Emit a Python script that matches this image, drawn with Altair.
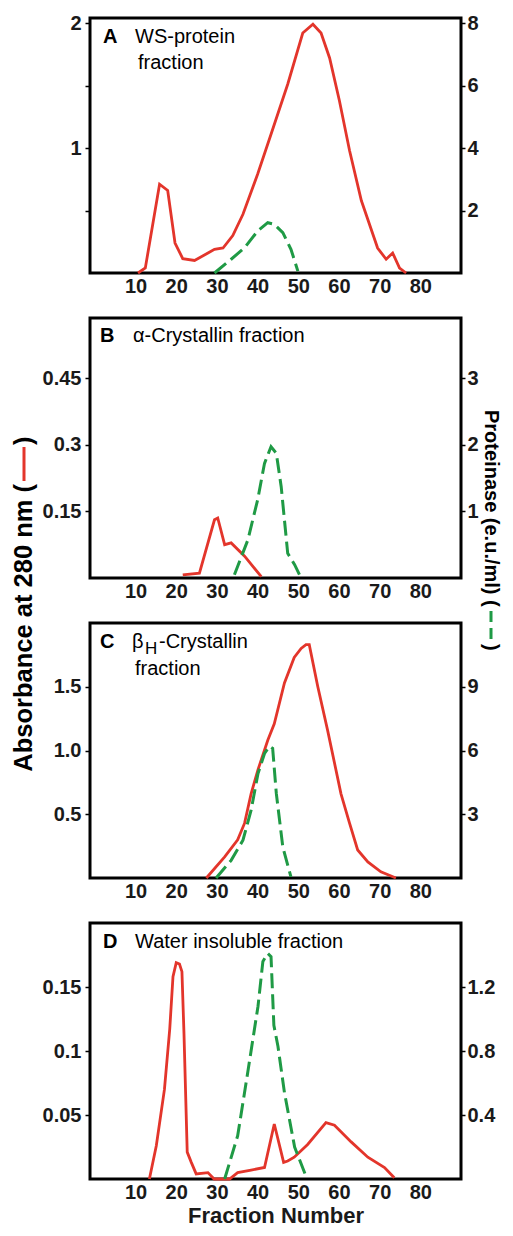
import altair as alt
import pandas as pd

RED = "#e3352b"
GREEN = "#1f9a45"
FONT = "Liberation Sans"

# ---------------- data ----------------
A_red_x = [10.6, 12.4, 15.9, 17.9, 19.7, 21.6, 24.5, 27.8, 29.4, 31.5, 33.9, 36.4, 40.0, 43.3, 47.4,
           51.1, 53.6, 55.6, 57.7, 60.1, 62.6, 65.5, 69.5, 71.6, 73.2, 74.9, 76.5]
A_red_y = [0, 0.04, 0.71, 0.66, 0.24, 0.115, 0.10, 0.16, 0.19, 0.20, 0.30, 0.47, 0.79, 1.11, 1.51,
           1.92, 1.99, 1.92, 1.72, 1.38, 0.98, 0.58, 0.20, 0.11, 0.16, 0.04, 0]
A_green_x = [29.4, 33.5, 36.8, 40.0, 42.5, 44.1, 46.2, 48.2, 49.9]
A_green_y = [0, 0.44, 0.81, 1.34, 1.61, 1.56, 1.29, 0.76, 0.06]

B_red_x = [21.6, 25.7, 29.4, 30.2, 31.9, 33.5, 36.8, 40.9]
B_red_y = [0.007, 0.011, 0.131, 0.135, 0.075, 0.079, 0.049, 0.003]
B_green_x = [34.3, 37.6, 40.0, 41.7, 43.3, 44.6, 45.8, 47.4, 49.1, 50.7]
B_green_y = [0.05, 0.57, 1.17, 1.72, 1.97, 1.87, 1.37, 0.37, 0.20, 0]

C_red_x = [27.4, 31.9, 35.1, 36.8, 38.4, 40.1, 42.5, 44.1, 46.6, 49.0, 50.7, 51.9, 52.7, 54.8,
           57.2, 60.5, 62.6, 64.6, 67.1, 70.3, 74.0]
C_red_y = [0, 0.166, 0.30, 0.43, 0.66, 0.85, 1.08, 1.21, 1.53, 1.73, 1.80, 1.83, 1.83, 1.50,
           1.16, 0.66, 0.43, 0.22, 0.126, 0.048, 0]
C_green_x = [29.8, 33.5, 36.4, 38.4, 40.1, 41.7, 42.9, 43.7, 44.6, 46.2, 48.2]
C_green_y = [0, 0.83, 1.78, 3.19, 4.92, 5.86, 6.2, 6.1, 3.98, 1.46, 0.05]

D_red_x = [13.4, 15.1, 17.1, 18.4, 19.2, 20.0, 20.8, 21.4, 21.9, 22.7, 23.7, 24.9, 27.8, 29.3,
           33.1, 35.1, 38.4, 41.7, 44.1, 46.4, 47.4, 49.0, 52.3, 56.8, 58.9, 63.0, 67.1, 71.2, 73.6]
D_red_y = [0, 0.026, 0.070, 0.117, 0.158, 0.169, 0.168, 0.162, 0.114, 0.021, 0.013, 0.004, 0.005, 0,
           0, 0.005, 0.007, 0.009, 0.043, 0.013, 0.014, 0.017, 0.027, 0.044, 0.042, 0.029, 0.017, 0.009, 0.001]
D_green_x = [31.9, 35.1, 37.6, 40.1, 41.3, 42.5, 43.3, 44.0, 45.0, 46.6, 49.1, 52.0]
D_green_y = [0, 0.27, 0.67, 1.08, 1.36, 1.41, 1.39, 0.96, 0.83, 0.54, 0.20, 0.01]

x_ticks = [10, 20, 30, 40, 50, 60, 70, 80]

W = 371


def txt(text, x, y, size=20, weight="normal", align="left", angle=0, baseline="alphabetic"):
    return alt.Chart(pd.DataFrame({"t": [text]})).mark_text(
        align=align, baseline=baseline, fontSize=size, fontWeight=weight,
        font=FONT, angle=angle, color="black"
    ).encode(text="t:N", x=alt.value(x), y=alt.value(y))


def seg(x, y, y2, color, dash=None, width=3):
    kw = dict(color=color, strokeWidth=width)
    if dash:
        kw["strokeDash"] = dash
    return alt.Chart(pd.DataFrame({"a": [0]})).mark_rule(**kw).encode(
        x=alt.value(x), y=alt.value(y), y2=alt.value(y2))


def panel(rx, ry, gx, gy, ldom, rdom, lticks, rticks, h, extras, lfmt, rfmt,
          lexpr=None, xtitle=None):
    red = pd.DataFrame({"x": rx, "y": ry})
    grn = pd.DataFrame({"x": gx, "y": gy})
    xaxis = alt.Axis(values=x_ticks, ticks=False, domain=False, grid=False,
                     labelFontSize=20, labelFontWeight="bold", labelPadding=3,
                     labelFont=FONT, labelColor="#1a1a1a", format=".0f",
                     title=xtitle if xtitle else None, titleFont=FONT, titleFontSize=22,
                     titleFontWeight="bold", titlePadding=3, titleColor="#1a1a1a")
    xenc = alt.X("x:Q", scale=alt.Scale(domain=[-1.2, 90], nice=False, zero=False), axis=xaxis)
    laxis_kw = dict(orient="left", values=lticks, title=None, domain=False, grid=False,
                    tickSize=5, tickWidth=1.5, tickColor="black", labelPadding=4,
                    labelFontSize=20, labelFontWeight="bold", labelFont=FONT,
                    labelColor="#1a1a1a", format=lfmt)
    if lexpr:
        laxis_kw["labelExpr"] = lexpr
    raxis = alt.Axis(orient="right", values=rticks, title=None, domain=False, grid=False,
                     tickSize=4, tickWidth=1.5, tickColor="black", labelPadding=2,
                     labelFontSize=20, labelFontWeight="bold", labelFont=FONT,
                     labelColor="#1a1a1a", format=rfmt)
    l_red = alt.Chart(red).mark_line(color=RED, strokeWidth=2.8).encode(
        x=xenc, y=alt.Y("y:Q", scale=alt.Scale(domain=ldom, nice=False), axis=alt.Axis(**laxis_kw)))
    l_grn = alt.Chart(grn).mark_line(color=GREEN, strokeWidth=3, strokeDash=[15, 6]).encode(
        x=xenc, y=alt.Y("y:Q", scale=alt.Scale(domain=rdom, nice=False), axis=raxis))
    return alt.layer(l_red, l_grn, *extras).resolve_scale(y="independent").properties(
        width=W, height=h)


exA = [txt("A", 13, 25, weight="bold"), txt("WS-protein", 45, 25), txt("fraction", 48, 51)]
exB = [txt("B", 10, 24, weight="bold"), txt("α-Crystallin fraction", 43, 24),
       # shared left axis title
       txt("Absorbance at 280 nm (", -66, 166, size=25.5, weight="bold", align="right",
           angle=270, baseline="middle"),
       seg(-66, 129, 163, RED),
       txt(")", -66, 127, size=25.5, weight="bold", align="left", angle=270, baseline="middle"),
       # shared right axis title
       txt("Proteinase (e.u./ml) (", 401, 92, size=20, weight="bold", align="left",
           angle=90, baseline="middle"),
       seg(401, 293, 323, GREEN, dash=[11, 6]),
       txt(")", 401, 326, size=20, weight="bold", align="left", angle=90, baseline="middle")]
exC = [txt("C", 10, 25, weight="bold"), txt("β", 42, 25), txt("H", 55, 31, size=17),
       txt("-Crystallin", 69, 25), txt("fraction", 45, 52)]
exD = [txt("D", 13, 25, weight="bold"), txt("Water insoluble fraction", 45, 25)]

pA = panel(A_red_x, A_red_y, A_green_x, A_green_y, [0, 2.04], [0, 8.16],
           [0.5, 1, 1.5, 2], [2, 4, 6, 8], 255, exA, ".0f", ".0f",
           lexpr="datum.value == 1 || datum.value == 2 ? datum.label : ''")
pB = panel(B_red_x, B_red_y, B_green_x, B_green_y, [0, 0.585], [0, 3.9],
           [0.15, 0.3, 0.45], [1, 2, 3], 260, exB, ".2~f", ".0f")
pC = panel(C_red_x, C_red_y, C_green_x, C_green_y, [0, 2.0], [0, 12],
           [0.5, 1.0, 1.5], [3, 6, 9], 255, exC, ".1f", ".0f")
pD = panel(D_red_x, D_red_y, D_green_x, D_green_y, [0, 0.2], [0, 1.6],
           [0.05, 0.1, 0.15], [0.4, 0.8, 1.2], 256, exD, ".2~f", ".1f",
           xtitle="Fraction Number")

chart = alt.vconcat(pA, pB, pC, pD, spacing=45, bounds="flush").properties(
    padding={"left": 2, "top": 3, "right": 0, "bottom": 0}
).configure_view(stroke="black", strokeWidth=3)

chart.save("out.html", embed_options={"renderer": "svg", "actions": False})
